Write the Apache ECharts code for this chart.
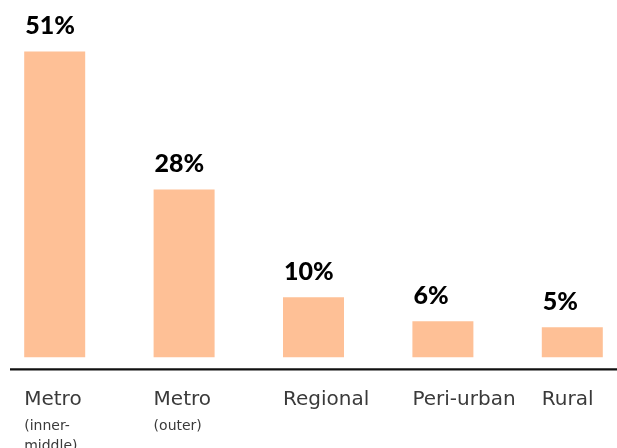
<!DOCTYPE html>
<html>
<head>
<meta charset="utf-8">
<script src="https://cdn.jsdelivr.net/npm/echarts@6/dist/echarts.min.js"></script>
<style>
  html, body { margin: 0; padding: 0; background: #ffffff; }
  #chart { width: 617px; height: 448px; }
</style>
</head>
<body>
<div id="chart"></div>
<script>
// Share of respondents by location type
const categories = ['Metro (inner-middle)', 'Metro (outer)', 'Regional', 'Peri-urban', 'Rural'];
const shares = [51, 28, 10, 6, 5];
const yMin = -2;
const yMax = 51;

const BAR_COLOR = '#fec096';
const BAR_WIDTH = 61;

const chart = echarts.init(document.getElementById('chart'), null, { renderer: 'canvas' });

// Main name on the first line, bracketed qualifier below in a smaller size
function categoryLabel(value) {
  const cut = value.indexOf(' (');
  if (cut < 0) return '{a|' + value + '}';
  const main = value.slice(0, cut);
  const sub = value.slice(cut + 1).replace('-', '-\n').split('\n');
  return '{a|' + main + '}\n' + sub.map(s => '{b|' + s + '}').join('\n');
}

chart.setOption({
  animation: false,
  grid: {
    left: -10, right: -20, top: 51.5, bottom: 78.7,
    containLabel: false,
    outerBoundsMode: 'none'
  },
  xAxis: {
    type: 'category',
    data: categories,
    axisLine: { show: false },
    axisTick: { show: false },
    axisLabel: {
      interval: 0,
      margin: 14,
      align: 'center',
      width: BAR_WIDTH,
      overflow: 'none',
      formatter: categoryLabel,
      rich: {
        a: { fontFamily: 'DejaVu Sans', fontSize: 20, color: '#3a3a3a', lineHeight: 33, align: 'left' },
        b: { fontFamily: 'DejaVu Sans', fontSize: 14, color: '#3a3a3a', lineHeight: 20, align: 'left' }
      }
    }
  },
  yAxis: {
    type: 'value',
    min: yMin,
    max: yMax,
    show: false,
    splitLine: { show: false }
  },
  series: [{
    type: 'bar',
    data: shares,
    barWidth: BAR_WIDTH,
    itemStyle: { color: BAR_COLOR },
    label: {
      show: true,
      position: [1, -13],
      align: 'left',
      verticalAlign: 'bottom',
      formatter: p => p.value + '%',
      fontFamily: 'Lato',
      fontWeight: 900,
      fontSize: 25,
      color: '#000000'
    }
  }]
});

// Baseline rule across the plot at the bottom of the value scale
const baseY = chart.convertToPixel({ yAxisIndex: 0 }, yMin);
chart.setOption({
  graphic: [{
    type: 'line',
    shape: { x1: 10, y1: baseY, x2: chart.getWidth(), y2: baseY },
    style: { stroke: '#111111', lineWidth: 2.3 },
    silent: true
  }]
});
</script>
</body>
</html>
